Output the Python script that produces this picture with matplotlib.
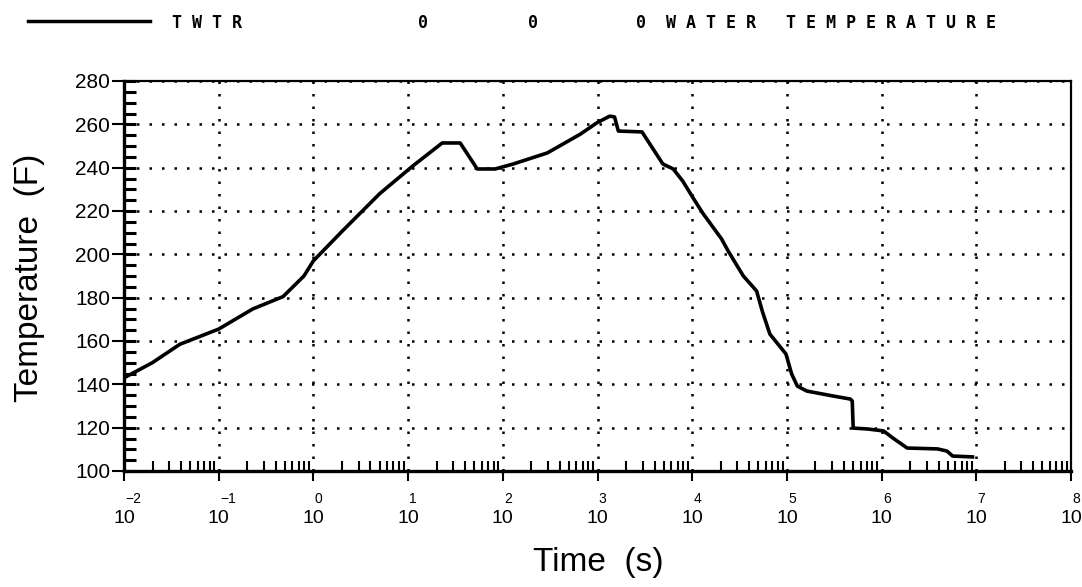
import numpy as np
import matplotlib
matplotlib.use('Agg')
import matplotlib.pyplot as plt
from matplotlib.ticker import LogLocator, MultipleLocator, FixedLocator, NullFormatter
from matplotlib.lines import Line2D

plt.rcParams['font.family'] = ['Liberation Sans', 'DejaVu Sans']

# water temperature vs time (log10 of seconds, deg F)
log_time = [-2.00, -1.70, -1.41, -1.00, -0.64, -0.32, -0.10, 0.00, 0.30, 0.70,
            1.05, 1.36, 1.55, 1.73, 1.92, 2.11, 2.47, 2.82, 2.99, 3.13,
            3.18, 3.22, 3.47, 3.69, 3.80, 3.90, 4.01, 4.11, 4.31, 4.38,
            4.54, 4.68, 4.74, 4.82, 4.99, 5.05, 5.11, 5.21, 5.49, 5.67,
            5.69, 5.70, 5.85, 6.02, 6.12, 6.27, 6.59, 6.69, 6.75, 6.96]
temperature = [143.0, 150.0, 158.5, 165.5, 174.8, 180.5, 190.0, 197.0, 210.5, 228.0,
               240.8, 251.4, 251.4, 239.4, 239.4, 241.7, 246.8, 255.5, 260.6, 263.8,
               263.4, 256.9, 256.5, 241.7, 239.4, 233.8, 226.0, 219.1, 207.1, 201.5,
               190.0, 183.1, 173.8, 163.2, 154.0, 144.8, 139.2, 136.9, 134.6, 133.2,
               132.3, 119.8, 119.4, 118.5, 115.2, 110.6, 110.2, 109.2, 106.9, 106.5]
decades = list(range(-2, 9))
y_ticks = list(range(100, 281, 20))

time = 10.0 ** np.array(log_time)

W, H = 1082, 587
fig = plt.figure(figsize=(W / 100, H / 100), dpi=100)
ax = fig.add_axes([124 / W, (H - 471) / H, 947 / W, 390 / H])

ax.plot(time, temperature, color='black', linewidth=2.6, solid_joinstyle='round')

ax.set_xscale('log')
ax.set_xlim(1e-2, 1e8)
ax.set_ylim(100, 280)

# x axis ticks: "10" below, exponent above it
ax.xaxis.set_major_locator(FixedLocator([10.0 ** d for d in decades]))
ax.set_xticklabels(['10'] * len(decades))
ax.xaxis.set_minor_locator(LogLocator(base=10, subs=np.arange(2, 10), numticks=100))
ax.xaxis.set_minor_formatter(NullFormatter())
ax.tick_params(axis='x', which='major', direction='out', length=7, width=1.5,
               labelsize=14, pad=21)
ax.tick_params(axis='x', which='minor', direction='in', length=7, width=1.5)
for d in decades:
    ax.annotate(str(d).replace('-', '\u2212'), xy=(10.0 ** d, 0),
                xycoords=('data', 'axes fraction'), textcoords='offset points',
                xytext=(1, -15), ha='left', va='top', fontsize=10, annotation_clip=False)

# y axis ticks
ax.set_yticks(y_ticks)
ax.yaxis.set_minor_locator(MultipleLocator(5))
ax.yaxis.remove_overlapping_locs = False
ax.tick_params(axis='y', which='major', direction='out', length=9, width=1.5,
               labelsize=15, pad=1)
ax.tick_params(axis='y', which='minor', direction='in', length=8.5, width=2.2)

ax.grid(True, which='major', color='black', linestyle=(0, (1, 4)), linewidth=1.8)

ax.spines['left'].set_linewidth(2.4)
ax.spines['bottom'].set_linewidth(2.4)
ax.spines['top'].set_linewidth(1.6)
ax.spines['right'].set_linewidth(1.6)

# axis titles
fig.text(30 / W, 1 - 278 / H, 'Temperature  (F)', rotation=90, ha='center', va='center',
         fontsize=24)
fig.text(598 / W, 1 - 563 / H, 'Time  (s)', ha='center', va='center', fontsize=24)

# legend strip at the top
fig.add_artist(Line2D([28 / W, 150 / W], [1 - 21 / H, 1 - 21 / H], color='black',
                      linewidth=2.5, transform=fig.transFigure))
mono = dict(family='DejaVu Sans Mono', fontsize=12, fontweight='bold', va='center', ha='left')
fig.text(172 / W, 1 - 23 / H, 'T W T R', **mono)
fig.text(418 / W, 1 - 23 / H, '0', **mono)
fig.text(528 / W, 1 - 23 / H, '0', **mono)
fig.text(636 / W, 1 - 23 / H, '0  W A T E R   T E M P E R A T U R E', **mono)

fig.savefig('out.png', dpi=100)
